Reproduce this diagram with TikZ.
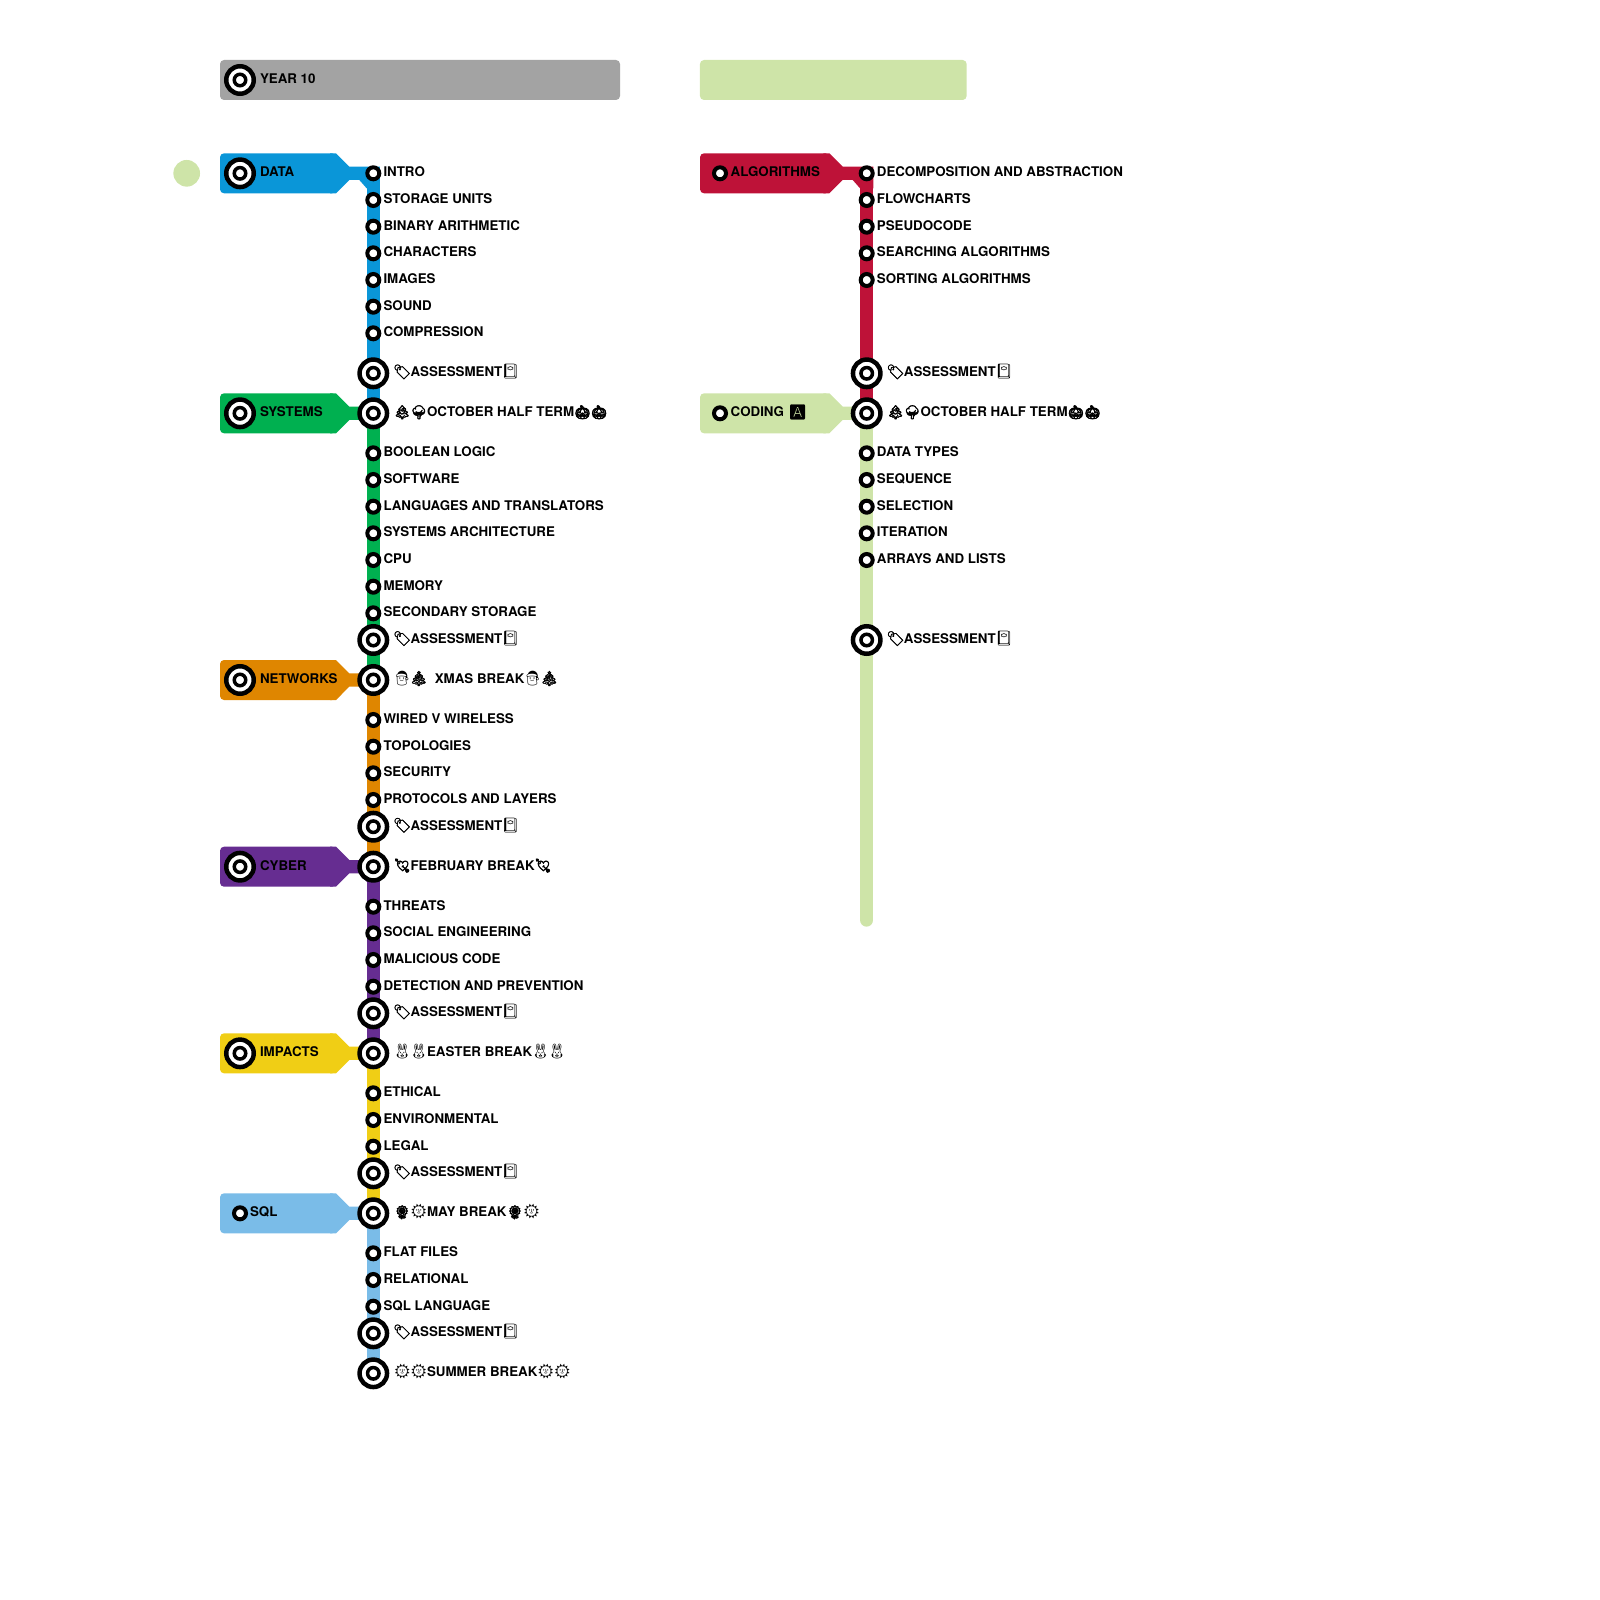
\documentclass[tikz,border=0pt]{standalone}
\usepackage{fontspec}
\usetikzlibrary{calc,backgrounds}
\setmainfont{TeX Gyre Heros}
\newfontfamily\emofont{Noto Emoji}
\newfontfamily\emofontb{Noto Emoji}[FakeBold=1.6]
\newfontfamily\emofontc{Noto Emoji}[FakeBold=4]
\newcommand{\txtfont}{\fontsize{13.33}{16}\selectfont\bfseries}
\newcommand{\emj}[1]{\makebox[16.6pt][c]{\mdseries\emofont\fontsize{14.5}{17}\selectfont #1}}
\newcommand{\emjb}[1]{\makebox[16.6pt][c]{\mdseries\emofontb\fontsize{14.5}{17}\selectfont #1}}
\newcommand{\emjc}[1]{\makebox[16.6pt][c]{\mdseries\emofontc\fontsize{13.5}{17}\selectfont #1}}
\definecolor{cblue}{HTML}{0A96D8}
\definecolor{cgreen}{HTML}{00B050}
\definecolor{corange}{HTML}{DF8600}
\definecolor{cpurple}{HTML}{662D91}
\definecolor{cyellow}{HTML}{F0CE15}
\definecolor{csky}{HTML}{7ABCE8}
\definecolor{ccrimson}{HTML}{BE1238}
\definecolor{clime}{HTML}{CEE4A8}
\definecolor{cgray}{HTML}{A3A3A3}
\tikzset{
  smallstn/.style={circle,draw=black,fill=white,line width=4pt,minimum size=12pt,inner sep=0pt,outer sep=0pt},
  bigouter/.style={circle,draw=black,fill=white,line width=4.5pt,minimum size=27.5pt,inner sep=0pt,outer sep=0pt},
  biginner/.style={circle,draw=black,fill=white,line width=3.5pt,minimum size=11.5pt,inner sep=0pt,outer sep=0pt},
  lbl/.style={anchor=base west,inner sep=0pt,outer sep=0pt,font=\txtfont,text=black},
  trackline/.style={line width=13.33pt},
  secbox/.style={anchor=west,minimum height=40pt,inner sep=0pt,outer sep=0pt,rounded corners=4pt},
  headbox/.style={minimum height=40pt,inner sep=0pt,outer sep=0pt,rounded corners=4pt},
}
% small station with label: name, x, y, text
\newcommand{\stn}[4]{\node[smallstn] (#1) at (#2,#3) {};
  \node[lbl] (#1-t) at ($(#2,#3)+(10.2,3.6)$) {#4};}
% big station, no label
\newcommand{\bigstn}[3]{\node[bigouter] (#1) at (#2,#3) {};
  \node[biginner] (#1-i) at (#1.center) {};}
% big station with label offset
\newcommand{\bigstnl}[4]{\bigstn{#1}{#2}{#3}
  \node[lbl] (#1-t) at ($(#2,#3)+(20.6,3.6)$) {#4};}
% section box: name, left x, width, y, colour
\newcommand{\secb}[5]{\node[secbox,fill=#5,minimum width=#3pt] (#1) at (#2,#4) {};}
% taper + connector from box to station
\newcommand{\branch}[3]{\begin{pgfonlayer}{background}
  \fill[#3] ($(#1.north east)+(-6,0)$) -- (#1.north east) -- ($(#2.center)+(-24,-6.67)$) -- ($(#2.center)+(6.67,-6.67)$)
    -- ($(#2.center)+(6.67,15)$) -- ($(#2.center)+(-6.67,15)$) -- ($(#2.center)+(-14,6.67)$) -- ($(#2.center)+(-24,6.67)$)
    -- (#1.south east) -- ($(#1.south east)+(-6,0)$) -- cycle;
\end{pgfonlayer}}
\newcommand{\assess}{\emjb{🏷}ASSESSMENT\emj{📔}}
\begin{document}
\begin{tikzpicture}[x=1pt,y=-1pt]
\useasboundingbox (0,0) rectangle (1600,1600);

% headers
\node[headbox,fill=cgray,minimum width=400pt] (hgray) at (420,80) {};
\node[headbox,fill=clime,minimum width=266.7pt] (hlime) at (833.3,80) {};
\bigstn{year}{240}{80}
\node[lbl] (yeart) at (260,83.6) {YEAR 10};
\node[circle,fill=clime,minimum size=26.67pt,inner sep=0pt] (dot) at (186.7,173.3) {};

% left column stations
\stn{intro}{373.3}{173.3}{INTRO}
\stn{units}{373.3}{200}{STORAGE UNITS}
\stn{binary}{373.3}{226.7}{BINARY ARITHMETIC}
\stn{chars}{373.3}{253.3}{CHARACTERS}
\stn{images}{373.3}{280}{IMAGES}
\stn{sound}{373.3}{306.7}{SOUND}
\stn{compr}{373.3}{333.3}{COMPRESSION}
\bigstnl{assa}{373.3}{373.3}{\assess}
\bigstnl{oct}{373.3}{413.3}{\emjc{🌲}\emjc{🌳}OCTOBER HALF TERM\emjc{🎃}\emjc{🎃}}
\stn{bool}{373.3}{453.3}{BOOLEAN LOGIC}
\stn{soft}{373.3}{480}{SOFTWARE}
\stn{lang}{373.3}{506.7}{LANGUAGES AND TRANSLATORS}
\stn{arch}{373.3}{533.3}{SYSTEMS ARCHITECTURE}
\stn{cpu}{373.3}{560}{CPU}
\stn{mem}{373.3}{586.7}{MEMORY}
\stn{sec}{373.3}{613.3}{SECONDARY STORAGE}
\bigstnl{assb}{373.3}{640}{\assess}
\bigstnl{xmas}{373.3}{680}{\emj{🎅}\emjb{🎄}\hspace{4pt} XMAS BREAK\emj{🎅}\emjb{🎄}}
\stn{wired}{373.3}{720}{WIRED V WIRELESS}
\stn{topo}{373.3}{746.7}{TOPOLOGIES}
\stn{secu}{373.3}{773.3}{SECURITY}
\stn{proto}{373.3}{800}{PROTOCOLS AND LAYERS}
\bigstnl{assc}{373.3}{826.7}{\assess}
\bigstnl{feb}{373.3}{866.7}{\emjc{💘}FEBRUARY BREAK\emjc{💘}}
\stn{threats}{373.3}{906.7}{THREATS}
\stn{social}{373.3}{933.3}{SOCIAL ENGINEERING}
\stn{malic}{373.3}{960}{MALICIOUS CODE}
\stn{detect}{373.3}{986.7}{DETECTION AND PREVENTION}
\bigstnl{assd}{373.3}{1013.3}{\assess}
\bigstnl{easter}{373.3}{1053.3}{\emj{🐰}\emj{🐰}EASTER BREAK\emj{🐰}\emj{🐰}}
\stn{ethical}{373.3}{1093.3}{ETHICAL}
\stn{envir}{373.3}{1120}{ENVIRONMENTAL}
\stn{legal}{373.3}{1146.7}{LEGAL}
\bigstnl{asse}{373.3}{1173.3}{\assess}
\bigstnl{may}{373.3}{1213.3}{\emjc{🌻}\emj{🌞}MAY BREAK\emjc{🌻}\emj{🌞}}
\stn{flat}{373.3}{1253.3}{FLAT FILES}
\stn{relat}{373.3}{1280}{RELATIONAL}
\stn{sqll}{373.3}{1306.7}{SQL LANGUAGE}
\bigstnl{assf}{373.3}{1333.3}{\assess}
\bigstnl{summer}{373.3}{1373.3}{\emj{🌞}\emj{🌞}SUMMER BREAK\emj{🌞}\emj{🌞}}

% right column stations
\stn{decomp}{866.7}{173.3}{DECOMPOSITION AND ABSTRACTION}
\stn{flow}{866.7}{200}{FLOWCHARTS}
\stn{pseudo}{866.7}{226.7}{PSEUDOCODE}
\stn{search}{866.7}{253.3}{SEARCHING ALGORITHMS}
\stn{sort}{866.7}{280}{SORTING ALGORITHMS}
\bigstnl{rassa}{866.7}{373.3}{\assess}
\bigstnl{roct}{866.7}{413.3}{\emjc{🌲}\emjc{🌳}OCTOBER HALF TERM\emjc{🎃}\emjc{🎃}}
\stn{dtypes}{866.7}{453.3}{DATA TYPES}
\stn{sequ}{866.7}{480}{SEQUENCE}
\stn{selec}{866.7}{506.7}{SELECTION}
\stn{iter}{866.7}{533.3}{ITERATION}
\stn{arrays}{866.7}{560}{ARRAYS AND LISTS}
\bigstnl{rassb}{866.7}{640}{\assess}
\coordinate (rend) at (866.7,920);

% section boxes
\secb{bdata}{220}{116}{173.3}{cblue}
\secb{bsys}{220}{116}{413.3}{cgreen}
\secb{bnet}{220}{116}{680}{corange}
\secb{bcyb}{220}{116}{866.7}{cpurple}
\secb{bimp}{220}{116}{1053.3}{cyellow}
\secb{bsql}{220}{116}{1213.3}{csky}
\secb{balg}{700}{129.4}{173.3}{ccrimson}
\secb{bcod}{700}{129.4}{413.3}{clime}

\bigstn{sdata}{240}{173.3}
\bigstn{ssys}{240}{413.3}
\bigstn{snet}{240}{680}
\bigstn{scyb}{240}{866.7}
\bigstn{simp}{240}{1053.3}
\node[smallstn] (ssql) at (240,1213.3) {};
\node[smallstn] (salg) at (720,173.3) {};
\node[smallstn] (scod) at (720,413.3) {};

\node[lbl] (tdata) at (260,176.9) {DATA};
\node[lbl] (tsys) at (260,416.9) {SYSTEMS};
\node[lbl] (tnet) at (260,683.6) {NETWORKS};
\node[lbl] (tcyb) at (260,870.3) {CYBER};
\node[lbl] (timp) at (260,1056.9) {IMPACTS};
\node[lbl] (tsql) at (250,1216.9) {SQL};
\node[lbl] (talg) at (730.7,176.9) {ALGORITHMS};
\node[lbl] (tcod) at (730.7,416.9) {CODING \hspace{1.5pt}\emjb{🅰}};

% tracks
\begin{pgfonlayer}{background}
\draw[trackline,cblue] (intro.center) -- (oct.center);
\draw[trackline,cgreen] (oct.center) -- (xmas.center);
\draw[trackline,corange] (xmas.center) -- (feb.center);
\draw[trackline,cpurple] (feb.center) -- (easter.center);
\draw[trackline,cyellow] (easter.center) -- (may.center);
\draw[trackline,csky] (may.center) -- (summer.center);
\draw[trackline,ccrimson] (decomp.center) -- (roct.center);
\draw[trackline,clime,line cap=round] (roct.center) -- (rend);
\end{pgfonlayer}
\branch{bdata}{intro}{cblue}
\branch{bsys}{oct}{cgreen}
\branch{bnet}{xmas}{corange}
\branch{bcyb}{feb}{cpurple}
\branch{bimp}{easter}{cyellow}
\branch{bsql}{may}{csky}
\branch{balg}{decomp}{ccrimson}
\branch{bcod}{roct}{clime}
\end{tikzpicture}
\end{document}
